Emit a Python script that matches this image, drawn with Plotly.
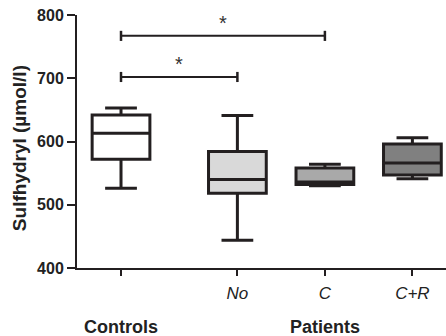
import plotly.graph_objects as go

groups = ["Controls", "No", "C", "C+R"]
xpos = [0, 1.33, 2.33, 3.33]
lower = [526, 444, 530, 541]
q1 = [572, 518, 532, 547]
median = [613, 540, 536, 566]
q3 = [642, 584, 558, 596]
upper = [653, 641, 564, 606]
fills = ["#ffffff", "#d9d9d9", "#a9a9a9", "#808080"]
tick_labels = ["", "No", "C", "C+R"]

# significance brackets: (x start, x end, y)
brackets = [(0, 2.33, 767), (0, 1.33, 702)]

line_col = "#231f20"
font_fam = "Arial, Liberation Sans, sans-serif"

fig = go.Figure()
for i in range(len(groups)):
    fig.add_trace(go.Box(
        x=[xpos[i]], q1=[q1[i]], median=[median[i]], q3=[q3[i]],
        lowerfence=[lower[i]], upperfence=[upper[i]],
        fillcolor=fills[i], line=dict(color=line_col, width=3),
        width=0.66, whiskerwidth=0.55, boxpoints=False, showlegend=False,
        hoverinfo="skip",
    ))

for (x0, x1, y) in brackets:
    fig.add_shape(type="line", x0=x0, x1=x1, y0=y, y1=y, xref="x", yref="y",
                  line=dict(color=line_col, width=2))
    for xx in (x0, x1):
        fig.add_shape(type="line", x0=xx, x1=xx, y0=y - 8, y1=y + 8, xref="x", yref="y",
                      line=dict(color=line_col, width=2.5))
    fig.add_annotation(x=(x0 + x1) / 2, y=y, text="*", showarrow=False,
                       xref="x", yref="y", yanchor="bottom", yshift=0,
                       font=dict(size=20, color="#333", family=font_fam))

fig.add_annotation(x=xpos[0], y=-0.185, xref="x", yref="paper", text="<b>Controls</b>",
                   showarrow=False, yanchor="top",
                   font=dict(size=18, color="#222", family=font_fam))
fig.add_annotation(x=xpos[2], y=-0.185, xref="x", yref="paper", text="<b>Patients</b>",
                   showarrow=False, yanchor="top",
                   font=dict(size=18, color="#222", family=font_fam))
fig.add_annotation(x=-0.157, y=0.474, xref="paper", yref="paper",
                   text="<b>Sulfhydryl (µmol/l)</b>", textangle=-90, showarrow=False,
                   xanchor="center", yanchor="middle",
                   font=dict(size=19, color="#222", family=font_fam))

fig.update_layout(
    width=446, height=336,
    margin=dict(l=77, r=0, t=15, b=68),
    plot_bgcolor="white", paper_bgcolor="white",
    font=dict(family=font_fam, color="#222"),
    xaxis=dict(range=[-0.503, 3.714], tickvals=xpos,
               ticktext=["<i>%s</i>" % t if t else "" for t in tick_labels],
               showgrid=False, zeroline=False, showline=True, linecolor=line_col,
               linewidth=2, ticks="outside", ticklen=6, tickwidth=2, tickcolor=line_col,
               ticklabelstandoff=3,
               tickfont=dict(size=17, color="#222")),
    yaxis=dict(range=[400, 800], tickvals=[400, 500, 600, 700, 800],
               ticktext=["<b>%d</b>" % v for v in [400, 500, 600, 700, 800]],
               showgrid=False, zeroline=False, showline=True, linecolor=line_col,
               linewidth=2, ticks="outside", ticklen=8, tickwidth=2, tickcolor=line_col,
               tickfont=dict(size=16, color="#222")),
)

fig.write_html("out.html")
